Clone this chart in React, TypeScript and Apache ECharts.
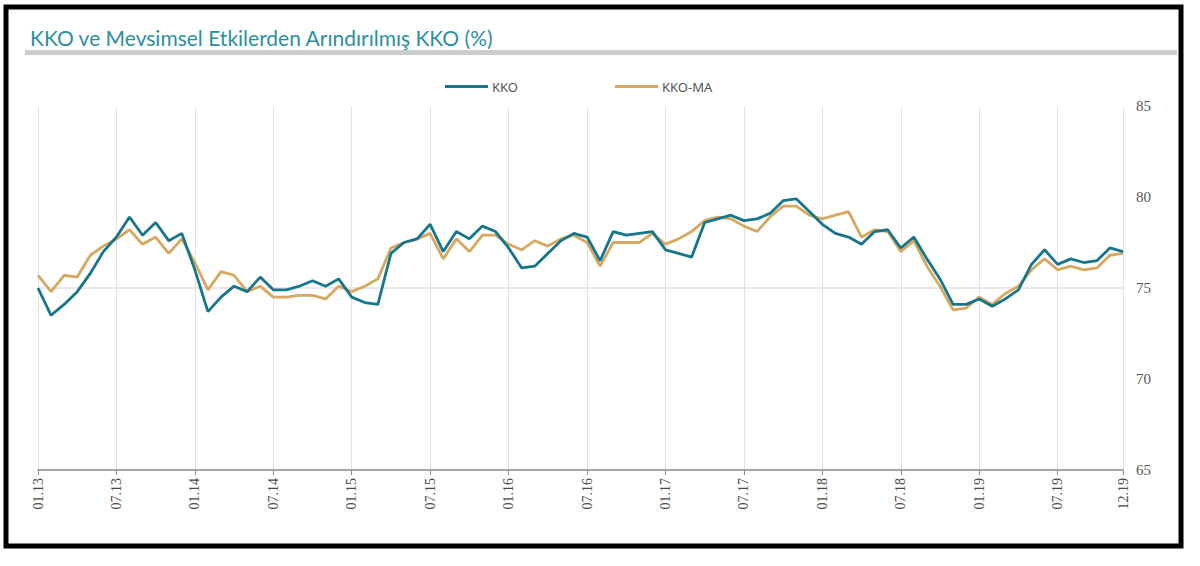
import React, { useEffect, useRef } from "react";
import * as echarts from "echarts";

// Monthly categories, 01.13 … 12.19
const months: string[] = [];
for (let y = 13; y <= 19; y++) {
  for (let m = 1; m <= 12; m++) {
    months.push(`${String(m).padStart(2, "0")}.${y}`);
  }
}

// Kapasite Kullanım Oranı (%)
const kko: number[] = [
  75.0, 73.5, 74.1, 74.8, 75.8, 77.0, 77.8, 78.9, 77.9, 78.6, 77.6, 78.0,
  76.0, 73.7, 74.5, 75.1, 74.8, 75.6, 74.9, 74.9, 75.1, 75.4, 75.1, 75.5,
  74.5, 74.2, 74.1, 76.9, 77.5, 77.7, 78.5, 77.0, 78.1, 77.7, 78.4, 78.1,
  77.2, 76.1, 76.2, 76.9, 77.6, 78.0, 77.8, 76.5, 78.1, 77.9, 78.0, 78.1,
  77.1, 76.9, 76.7, 78.6, 78.8, 79.0, 78.7, 78.8, 79.1, 79.8, 79.9, 79.2,
  78.5, 78.0, 77.8, 77.4, 78.1, 78.2, 77.2, 77.8, 76.6, 75.5, 74.1, 74.1,
  74.4, 74.0, 74.4, 74.9, 76.3, 77.1, 76.3, 76.6, 76.4, 76.5, 77.2, 77.0,
];

// Mevsimsel etkilerden arındırılmış KKO (%)
const kkoMa: number[] = [
  75.7, 74.8, 75.7, 75.6, 76.8, 77.3, 77.7, 78.2, 77.4, 77.8, 76.9, 77.7,
  76.4, 74.9, 75.9, 75.7, 74.8, 75.1, 74.5, 74.5, 74.6, 74.6, 74.4, 75.1,
  74.8, 75.1, 75.5, 77.2, 77.5, 77.7, 78.0, 76.6, 77.7, 77.0, 77.9, 77.9,
  77.4, 77.1, 77.6, 77.3, 77.7, 77.9, 77.5, 76.2, 77.5, 77.5, 77.5, 78.0,
  77.4, 77.7, 78.1, 78.7, 78.9, 78.8, 78.4, 78.1, 78.9, 79.5, 79.5, 79.0,
  78.8, 79.0, 79.2, 77.8, 78.2, 78.1, 77.0, 77.6, 76.2, 75.1, 73.8, 73.9,
  74.5, 74.1, 74.7, 75.1, 76.0, 76.6, 76.0, 76.2, 76.0, 76.1, 76.8, 76.9,
];

const yMin = 65;
const yMax = 85;
const yStep = 5;

const TEAL = "#16768c";
const TAN = "#d8a860";
const TITLE = "#2a909f";

const showTick = (i: number) => i % 6 === 0 || i === months.length - 1;

export default function App() {
  const ref = useRef<HTMLDivElement>(null);

  useEffect(() => {
    if (!ref.current) return;
    const chart = echarts.init(ref.current, undefined, { renderer: "svg" });
    chart.setOption({
      animation: false,
      backgroundColor: "#ffffff",
      title: {
        text: "KKO ve Mevsimsel Etkilerden Arındırılmış KKO (%)",
        left: 30,
        top: 27,
        padding: 0,
        textStyle: {
          fontFamily: "Lato",
          fontSize: 21,
          fontWeight: "normal",
          color: TITLE,
        },
      },
      legend: {
        left: 440,
        top: 75,
        itemWidth: 43,
        itemHeight: 3,
        itemGap: 97,
        icon: "rect",
        textStyle: {
          fontFamily: "Noto Sans",
          fontSize: 13,
          color: "#555555",
          padding: [0, 0, 0, -1],
        },
        data: ["KKO", "KKO-MA"],
      },
      graphic: [
        {
          type: "rect",
          shape: { x: 6, y: 7, width: 1175, height: 539 },
          style: { fill: "none", stroke: "#000000", lineWidth: 5 },
          silent: true,
        },
        {
          type: "rect",
          shape: { x: 25, y: 50, width: 1152, height: 5 },
          style: { fill: "#cccccc" },
          silent: true,
        },
      ],
      grid: { left: 38, right: 77, top: 106, bottom: 96 },
      xAxis: {
        type: "category",
        data: months,
        boundaryGap: false,
        axisLine: { lineStyle: { color: "#8a8a8a", width: 1.5 } },
        axisTick: { interval: showTick, length: 5, lineStyle: { color: "#8a8a8a" } },
        axisLabel: {
          interval: showTick,
          rotate: 90,
          margin: 8,
          fontFamily: "Liberation Serif",
          fontSize: 14,
          color: "#4a4a4a",
        },
        splitLine: {
          show: true,
          interval: showTick,
          lineStyle: { color: "#e4e4e4", width: 1 },
        },
      },
      yAxis: {
        type: "value",
        position: "right",
        min: yMin,
        max: yMax,
        interval: yStep,
        axisLine: { show: false },
        axisTick: { show: false },
        axisLabel: {
          margin: 13,
          fontFamily: "Liberation Serif",
          fontSize: 15,
          color: "#555555",
        },
        splitLine: {
          show: true,
          lineStyle: {
            color: ["transparent", "transparent", "#e2e2e2", "transparent", "transparent"],
            width: 1.5,
          },
        },
      },
      series: [
        {
          name: "KKO",
          type: "line",
          data: kko,
          symbol: "none",
          z: 3,
          lineStyle: { color: TEAL, width: 2.8 },
          itemStyle: { color: TEAL },
        },
        {
          name: "KKO-MA",
          type: "line",
          data: kkoMa,
          symbol: "none",
          z: 2,
          lineStyle: { color: TAN, width: 2.8 },
          itemStyle: { color: TAN },
        },
      ],
    });
    return () => chart.dispose();
  }, []);

  return (
    <div
      ref={ref}
      style={{ position: "absolute", left: 0, top: 0, width: 1200, height: 566 }}
    />
  );
}
